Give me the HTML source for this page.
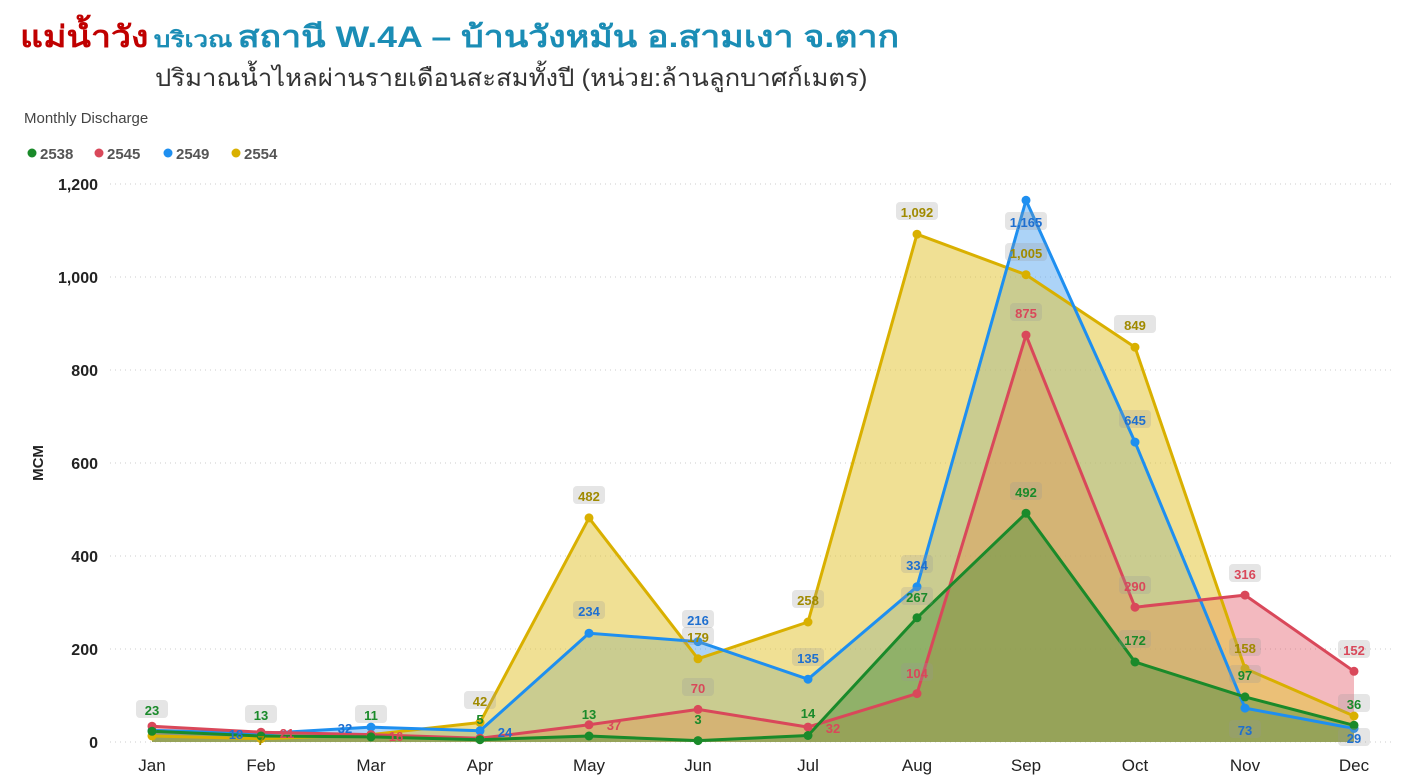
<!DOCTYPE html>
<html><head><meta charset="utf-8"><style>
body{margin:0;width:1406px;height:780px;background:#fff;overflow:hidden;font-family:"Liberation Sans","Noto Sans CJK SC",sans-serif}
.t1{position:absolute;left:20px;top:14px;white-space:nowrap;font-weight:bold;transform:scaleX(1.19);transform-origin:left top}
.sub{position:absolute;left:155px;top:58px;font-size:24px;color:#333;white-space:nowrap;transform:scaleX(1.07);transform-origin:left top}
</style></head><body>
<div class="t1"><span style="color:#c00000;font-size:30px">แม่น้ำวัง</span> <span style="color:#1b8db5;font-size:22px">บริเวณ</span> <span style="color:#1b8db5;font-size:30px">สถานี W.4A – บ้านวังหมัน อ.สามเงา จ.ตาก</span></div>
<div class="sub">ปริมาณน้ำไหลผ่านรายเดือนสะสมทั้งปี (หน่วย:ล้านลูกบาศก์เมตร)</div>
<svg width="1406" height="780" style="position:absolute;left:0;top:0" font-family="Liberation Sans, sans-serif">
<text x="24" y="123" font-size="15" fill="#444">Monthly Discharge</text>
<g font-size="15" font-weight="bold" fill="#555">
<circle cx="32" cy="153" r="4.5" fill="#1a8a2a"/><text x="40" y="159">2538</text>
<circle cx="99" cy="153" r="4.5" fill="#d9485a"/><text x="107" y="159">2545</text>
<circle cx="168" cy="153" r="4.5" fill="#1e8ff0"/><text x="176" y="159">2549</text>
<circle cx="236" cy="153" r="4.5" fill="#d9b000"/><text x="244" y="159">2554</text>
</g>
<g stroke="#ccc" stroke-dasharray="1,4">
<line x1="110" x2="1395" y1="184" y2="184"/><line x1="110" x2="1395" y1="277" y2="277"/><line x1="110" x2="1395" y1="370" y2="370"/><line x1="110" x2="1395" y1="463" y2="463"/><line x1="110" x2="1395" y1="556" y2="556"/><line x1="110" x2="1395" y1="649" y2="649"/><line x1="110" x2="1395" y1="742" y2="742"/>
</g>
<g font-size="16" font-weight="bold" fill="#222" text-anchor="end">
<text x="98" y="190">1,200</text><text x="98" y="283">1,000</text><text x="98" y="376">800</text><text x="98" y="469">600</text><text x="98" y="562">400</text><text x="98" y="655">200</text><text x="98" y="748">0</text>
</g>
<text transform="translate(43,463) rotate(-90)" font-size="15" font-weight="bold" fill="#222" text-anchor="middle">MCM</text>
<g font-size="17" fill="#222" text-anchor="middle">
<text x="152" y="771">Jan</text><text x="261" y="771">Feb</text><text x="371" y="771">Mar</text><text x="480" y="771">Apr</text><text x="589" y="771">May</text><text x="698" y="771">Jun</text><text x="808" y="771">Jul</text><text x="917" y="771">Aug</text><text x="1026" y="771">Sep</text><text x="1135" y="771">Oct</text><text x="1245" y="771">Nov</text><text x="1354" y="771">Dec</text>
</g>
<!-- areas -->
<polygon fill="#5aa8f0" fill-opacity="0.5" points="152,742 152,730.4 261,733.6 371,727.1 480,730.8 589,633.2 698,641.6 808,679.2 917,586.7 1026,200.3 1135,442.1 1245,708.1 1354,728.5 1354,742"/>
<polygon fill="#e05060" fill-opacity="0.4" points="152,742 152,726.2 261,732.2 371,734.6 480,738.3 589,724.8 698,709.4 808,727.1 917,693.6 1026,335.1 1135,607.2 1245,595.1 1354,671.3 1354,742"/>
<polygon fill="#e3c63c" fill-opacity="0.55" points="152,742 152,736 261,738.7 371,734.6 480,722.5 589,517.9 698,658.8 808,622 917,234.2 1026,274.7 1135,347.2 1245,668.5 1354,716 1354,742"/>
<polygon fill="#3a8a30" fill-opacity="0.4" points="152,742 152,731.3 261,736 371,736.9 480,739.7 589,736 698,740.6 808,735.5 917,617.8 1026,513.2 1135,662 1245,696.9 1354,725.3 1354,742"/>
<g fill="none" stroke-width="3" stroke-linejoin="round">
<polyline stroke="#d9b000" points="152,736 261,738.7 371,734.6 480,722.5 589,517.9 698,658.8 808,622 917,234.2 1026,274.7 1135,347.2 1245,668.5 1354,716"/>
<polyline stroke="#1e8ff0" points="152,730.4 261,733.6 371,727.1 480,730.8 589,633.2 698,641.6 808,679.2 917,586.7 1026,200.3 1135,442.1 1245,708.1 1354,728.5"/>
<polyline stroke="#d9485a" points="152,726.2 261,732.2 371,734.6 480,738.3 589,724.8 698,709.4 808,727.1 917,693.6 1026,335.1 1135,607.2 1245,595.1 1354,671.3"/>
<polyline stroke="#1a8a2a" points="152,731.3 261,736 371,736.9 480,739.7 589,736 698,740.6 808,735.5 917,617.8 1026,513.2 1135,662 1245,696.9 1354,725.3"/>
</g>
<g fill="#d9b000"><circle cx="152" cy="736" r="4.5"/><circle cx="261" cy="738.7" r="4.5"/><circle cx="371" cy="734.6" r="4.5"/><circle cx="480" cy="722.5" r="4.5"/><circle cx="589" cy="517.9" r="4.5"/><circle cx="698" cy="658.8" r="4.5"/><circle cx="808" cy="622" r="4.5"/><circle cx="917" cy="234.2" r="4.5"/><circle cx="1026" cy="274.7" r="4.5"/><circle cx="1135" cy="347.2" r="4.5"/><circle cx="1245" cy="668.5" r="4.5"/><circle cx="1354" cy="716" r="4.5"/></g>
<g fill="#1e8ff0"><circle cx="152" cy="730.4" r="4.5"/><circle cx="261" cy="733.6" r="4.5"/><circle cx="371" cy="727.1" r="4.5"/><circle cx="480" cy="730.8" r="4.5"/><circle cx="589" cy="633.2" r="4.5"/><circle cx="698" cy="641.6" r="4.5"/><circle cx="808" cy="679.2" r="4.5"/><circle cx="917" cy="586.7" r="4.5"/><circle cx="1026" cy="200.3" r="4.5"/><circle cx="1135" cy="442.1" r="4.5"/><circle cx="1245" cy="708.1" r="4.5"/><circle cx="1354" cy="728.5" r="4.5"/></g>
<g fill="#d9485a"><circle cx="152" cy="726.2" r="4.5"/><circle cx="261" cy="732.2" r="4.5"/><circle cx="371" cy="734.6" r="4.5"/><circle cx="480" cy="738.3" r="4.5"/><circle cx="589" cy="724.8" r="4.5"/><circle cx="698" cy="709.4" r="4.5"/><circle cx="808" cy="727.1" r="4.5"/><circle cx="917" cy="693.6" r="4.5"/><circle cx="1026" cy="335.1" r="4.5"/><circle cx="1135" cy="607.2" r="4.5"/><circle cx="1245" cy="595.1" r="4.5"/><circle cx="1354" cy="671.3" r="4.5"/></g>
<g fill="#1a8a2a"><circle cx="152" cy="731.3" r="4.5"/><circle cx="261" cy="736" r="4.5"/><circle cx="371" cy="736.9" r="4.5"/><circle cx="480" cy="739.7" r="4.5"/><circle cx="589" cy="736" r="4.5"/><circle cx="698" cy="740.6" r="4.5"/><circle cx="808" cy="735.5" r="4.5"/><circle cx="917" cy="617.8" r="4.5"/><circle cx="1026" cy="513.2" r="4.5"/><circle cx="1135" cy="662" r="4.5"/><circle cx="1245" cy="696.9" r="4.5"/><circle cx="1354" cy="725.3" r="4.5"/></g>
<!-- labels -->
<g font-size="13" font-weight="bold" text-anchor="middle">
<g fill="#999" fill-opacity="0.25">
<rect x="896" y="202" width="42" height="18" rx="4"/><rect x="1005" y="212" width="42" height="18" rx="4"/><rect x="1005" y="243" width="42" height="18" rx="4"/><rect x="1114" y="315" width="42" height="18" rx="4"/><rect x="1010" y="303" width="32" height="18" rx="4"/><rect x="1119" y="410" width="32" height="18" rx="4"/><rect x="1010" y="482" width="32" height="18" rx="4"/><rect x="573" y="486" width="32" height="18" rx="4"/><rect x="573" y="601" width="32" height="18" rx="4"/><rect x="682" y="610" width="32" height="18" rx="4"/><rect x="682" y="627" width="32" height="18" rx="4"/><rect x="792" y="590" width="32" height="18" rx="4"/><rect x="792" y="648" width="32" height="18" rx="4"/><rect x="901" y="555" width="32" height="18" rx="4"/><rect x="901" y="587" width="32" height="18" rx="4"/><rect x="901" y="663" width="32" height="18" rx="4"/><rect x="1119" y="576" width="32" height="18" rx="4"/><rect x="1119" y="630" width="32" height="18" rx="4"/><rect x="1229" y="564" width="32" height="18" rx="4"/><rect x="1229" y="638" width="32" height="18" rx="4"/><rect x="1229" y="665" width="32" height="18" rx="4"/><rect x="1229" y="720" width="32" height="18" rx="4"/><rect x="1338" y="640" width="32" height="18" rx="4"/><rect x="1338" y="694" width="32" height="18" rx="4"/><rect x="1338" y="728" width="32" height="18" rx="4"/><rect x="136" y="700" width="32" height="18" rx="4"/><rect x="245" y="705" width="32" height="18" rx="4"/><rect x="355" y="705" width="32" height="18" rx="4"/><rect x="464" y="691" width="32" height="18" rx="4"/><rect x="682" y="678" width="32" height="18" rx="4"/></g>
<g fill="#1a8a2a"><text x="152" y="715">23</text><text x="261" y="720">13</text><text x="371" y="720">11</text><text x="480" y="724">5</text><text x="589" y="719">13</text><text x="698" y="724">3</text><text x="808" y="718">14</text><text x="917" y="602">267</text><text x="1026" y="497">492</text><text x="1135" y="645">172</text><text x="1245" y="680">97</text><text x="1354" y="709">36</text></g>
<g fill="#d9485a"><text x="287" y="738">21</text><text x="396" y="741">16</text><text x="614" y="730">37</text><text x="698" y="693">70</text><text x="833" y="733">32</text><text x="917" y="678">104</text><text x="1026" y="318">875</text><text x="1135" y="591">290</text><text x="1245" y="579">316</text><text x="1354" y="655">152</text></g>
<g fill="#1e6fd0"><text x="236" y="739">18</text><text x="345" y="733">32</text><text x="505" y="737">24</text><text x="589" y="616">234</text><text x="698" y="625">216</text><text x="808" y="663">135</text><text x="917" y="570">334</text><text x="1026" y="227">1,165</text><text x="1135" y="425">645</text><text x="1245" y="735">73</text><text x="1354" y="743">29</text></g>
<g fill="#a08a00"><text x="261" y="745">7</text><text x="480" y="706">42</text><text x="589" y="501">482</text><text x="698" y="642">179</text><text x="808" y="605">258</text><text x="917" y="217">1,092</text><text x="1026" y="258">1,005</text><text x="1135" y="330">849</text><text x="1245" y="653">158</text></g>
</g>
</svg>
</body></html>
